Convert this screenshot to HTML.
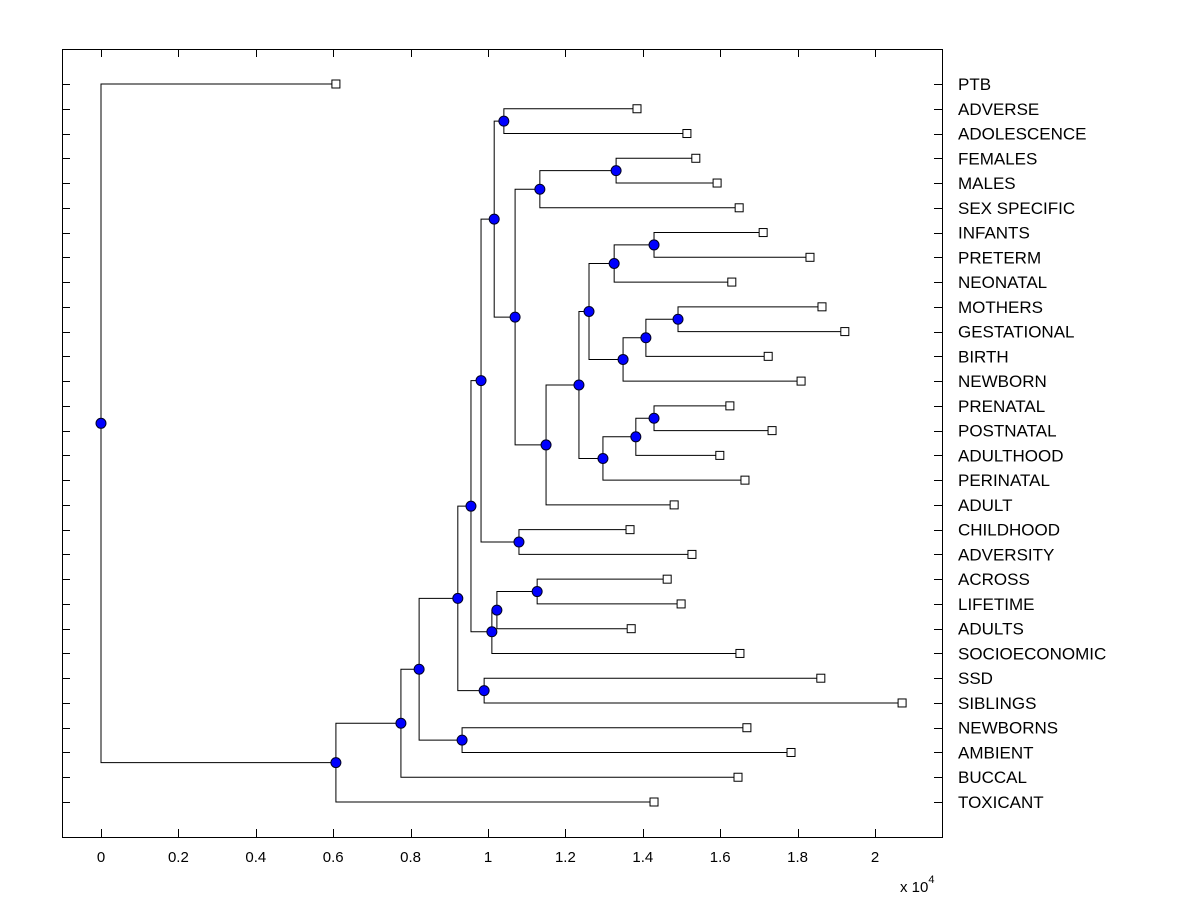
<!DOCTYPE html>
<html><head><meta charset="utf-8"><style>
html,body{margin:0;padding:0;background:#fff;}
svg{display:block;font-family:"Liberation Sans",Arial,sans-serif;}
</style></head><body>
<svg id="chart" width="1200" height="900"></svg>
<script>
const leaves = ["PTB","ADVERSE","ADOLESCENCE","FEMALES","MALES","SEX SPECIFIC","INFANTS","PRETERM","NEONATAL","MOTHERS","GESTATIONAL","BIRTH","NEWBORN","PRENATAL","POSTNATAL","ADULTHOOD","PERINATAL","ADULT","CHILDHOOD","ADVERSITY","ACROSS","LIFETIME","ADULTS","SOCIOECONOMIC","SSD","SIBLINGS","NEWBORNS","AMBIENT","BUCCAL","TOXICANT"];
const leafValues = [0.607,1.385,1.514,1.537,1.592,1.649,1.711,1.832,1.630,1.863,1.922,1.724,1.809,1.625,1.734,1.599,1.664,1.481,1.367,1.527,1.463,1.499,1.370,1.651,1.860,2.070,1.669,1.783,1.646,1.429];
const nodeIds = ["nRoot","nA","nB","nC","nAmb","nD","nSS","nE","nG","nH","nI","nF","nK","nJ","nL","nM","nN","nP","nO","nQ","nR","nT","nV","nU","nW","nX","nS","nY","nZ"];
const nodeChildren = [["PTB","nA"],["nB","TOXICANT"],["nC","BUCCAL"],["nD","nAmb"],["NEWBORNS","AMBIENT"],["nE","nSS"],["SSD","SIBLINGS"],["nF","nG"],["nH","SOCIOECONOMIC"],["nI","ADULTS"],["ACROSS","LIFETIME"],["nJ","nK"],["CHILDHOOD","ADVERSITY"],["nL","nM"],["ADVERSE","ADOLESCENCE"],["nN","nO"],["nP","SEX SPECIFIC"],["FEMALES","MALES"],["nQ","ADULT"],["nR","nS"],["nT","nU"],["nV","NEONATAL"],["INFANTS","PRETERM"],["nW","NEWBORN"],["nX","BIRTH"],["MOTHERS","GESTATIONAL"],["nY","PERINATAL"],["nZ","ADULTHOOD"],["PRENATAL","POSTNATAL"]];
const nodeValues = [0,0.607,0.775,0.822,0.933,0.922,0.990,0.956,1.010,1.023,1.127,0.982,1.080,1.016,1.041,1.070,1.134,1.331,1.150,1.235,1.261,1.326,1.429,1.349,1.408,1.491,1.297,1.382,1.429];
const xTicks = [0,0.2,0.4,0.6,0.8,1,1.2,1.4,1.6,1.8,2];

const NS="http://www.w3.org/2000/svg";
const svg=document.getElementById('chart');
const L=62,R=942,T=49,B=837;
const xS=v=>101+v*387;
const yS=i=>84+i*(802-84)/29;
function mk(tag,attrs,parent){const e=document.createElementNS(NS,tag);for(const k in attrs)e.setAttribute(k,attrs[k]);(parent||svg).appendChild(e);return e;}

const frame=mk('rect',{x:L+0.5,y:T+0.5,width:R-L,height:B-T,fill:'none',stroke:'#000','stroke-width':1});



xTicks.forEach(t=>{
  const x=Math.round(xS(t))+0.5;
  const a=mk('line',{x1:x,x2:x,y1:B,y2:B-8,stroke:'#000'});
  
  
  const b=mk('line',{x1:x,x2:x,y1:T,y2:T+8,stroke:'#000'});
  
  
  const tx=mk('text',{x:xS(t),y:862,'font-size':15,'text-anchor':'middle',fill:'#000'});
  tx.textContent=String(t);
  
  
});
const mult=mk('text',{x:900,y:892,'font-size':15,fill:'#000'});
mult.innerHTML='x 10<tspan dy="-9" font-size="11">4</tspan>';



leaves.forEach((n,i)=>{
  const y=Math.round(yS(i))+0.5;
  const a=mk('line',{x1:L,x2:L+8,y1:y,y2:y,stroke:'#000'});
  
  
  const b=mk('line',{x1:R,x2:R-8,y1:y,y2:y,stroke:'#000'});
  
  
  const t=mk('text',{x:958,y:yS(i)+6,'font-size':17,fill:'#000'});
  t.textContent=n;
  
  
});

const pos={};
leaves.forEach((n,i)=>{pos[n]={x:xS(leafValues[i]),y:yS(i)};});
function resolve(id){
  if(pos[id])return pos[id];
  const k=nodeIds.indexOf(id);
  const a=resolve(nodeChildren[k][0]),b=resolve(nodeChildren[k][1]);
  pos[id]={x:xS(nodeValues[k]),y:(a.y+b.y)/2};
  return pos[id];
}
nodeIds.forEach(resolve);

const gl=mk('g',{stroke:'#000','stroke-width':1,fill:'none'});


nodeIds.forEach((id,k)=>{
  const p=pos[id];
  const a=pos[nodeChildren[k][0]],b=pos[nodeChildren[k][1]];
  const path=mk('path',{d:`M${a.x},${a.y}H${p.x}V${b.y}H${b.x}`},gl);
  
  
});
leaves.forEach(n=>{
  const p=pos[n];
  const r=mk('rect',{x:p.x-4,y:p.y-4,width:8,height:8,fill:'#fff',stroke:'#000'});
  
  
});
nodeIds.forEach(id=>{
  const p=pos[id];
  const c=mk('circle',{cx:p.x,cy:p.y,r:5,fill:'#0000ff',stroke:'#000022','stroke-width':1});
  
  
});
</script>
</body></html>
